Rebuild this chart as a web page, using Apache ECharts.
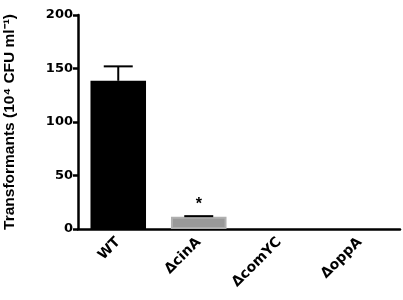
<!DOCTYPE html>
<html><head><meta charset="utf-8">
<script src="https://cdn.jsdelivr.net/npm/echarts@6/dist/echarts.min.js"></script>
<style>html,body{margin:0;padding:0;background:#fff}#c{width:403px;height:300px}</style>
</head><body><div id="c"></div>
<script>
var categories = ['WT', '\u0394cinA', '\u0394comYC', '\u0394oppA'];
var means = [138.5, 11.5, 0, 0];
var errors = [13.5, 0.5, 0, 0];
var stars = ['', '*', '', ''];
var yTicks = [0, 50, 100, 150, 200];

var chart = echarts.init(document.getElementById('c'));
var font = 'Liberation Sans, Arial, sans-serif';
chart.setOption({
  animation: false,
  grid: {left: 78, right: 3, top: 15, bottom: 71, containLabel: false, outerBoundsMode: 'none'},
  xAxis: {
    type: 'category', data: categories,
    axisLine: {lineStyle: {color: '#000', width: 2.5}},
    axisTick: {alignWithLabel: true, length: 7, lineStyle: {color: '#000', width: 2.5}},
    axisLabel: {rotate: 45, margin: 11, color: '#000', fontWeight: 'bold', fontSize: 14, fontFamily: 'DejaVu Sans'}
  },
  yAxis: {
    type: 'value', min: 0, max: 200, interval: 50,
    name: 'Transformants (10\u2074 CFU ml\u207B\u00B9)',
    nameLocation: 'middle', nameGap: 60, nameRotate: 90,
    nameTextStyle: {color: '#000', fontWeight: 'bold', fontSize: 15.5, fontFamily: font},
    splitLine: {show: false},
    axisLine: {show: true, lineStyle: {color: '#000', width: 2.5}},
    axisTick: {show: true, length: 5, lineStyle: {color: '#000', width: 2.5}},
    axisLabel: {color: '#000', fontWeight: 'bold', fontSize: 13, fontFamily: 'DejaVu Sans', margin: 5,
      formatter: function (v) { return yTicks.indexOf(v) >= 0 ? String(v) : ''; }}
  },
  series: [{
    type: 'bar', barWidth: '69%',
    data: means.map(function (v, i) {
      return {value: v, itemStyle: i === 1 ? {color: '#999', borderColor: '#b0b0b0', borderWidth: 2} : {color: '#000'}};
    }),
    z: 2
  }, {
    type: 'custom', z: 3,
    data: means.map(function (v, i) { return [i, v, errors[i]]; }),
    renderItem: function (params, api) {
      var i = api.value(0), m = api.value(1), e = api.value(2);
      if (m <= 0) return null;
      var base = api.coord([i, m]);
      var top = api.coord([i, m + e]);
      var bw = api.size([1, 0])[0] * 0.36;
      var children = [
        {type: 'line', shape: {x1: base[0], y1: base[1], x2: top[0], y2: top[1]}, style: {stroke: '#000', lineWidth: 2}},
        {type: 'line', shape: {x1: top[0] - bw / 2, y1: top[1], x2: top[0] + bw / 2, y2: top[1]}, style: {stroke: '#000', lineWidth: 2}}
      ];
      if (stars[i]) {
        children.push({type: 'text', style: {text: stars[i], x: top[0], y: top[1] - 4, align: 'center', verticalAlign: 'bottom', fill: '#000', font: 'bold 16px ' + font}});
      }
      return {type: 'group', children: children};
    }
  }]
});
</script></body></html>
